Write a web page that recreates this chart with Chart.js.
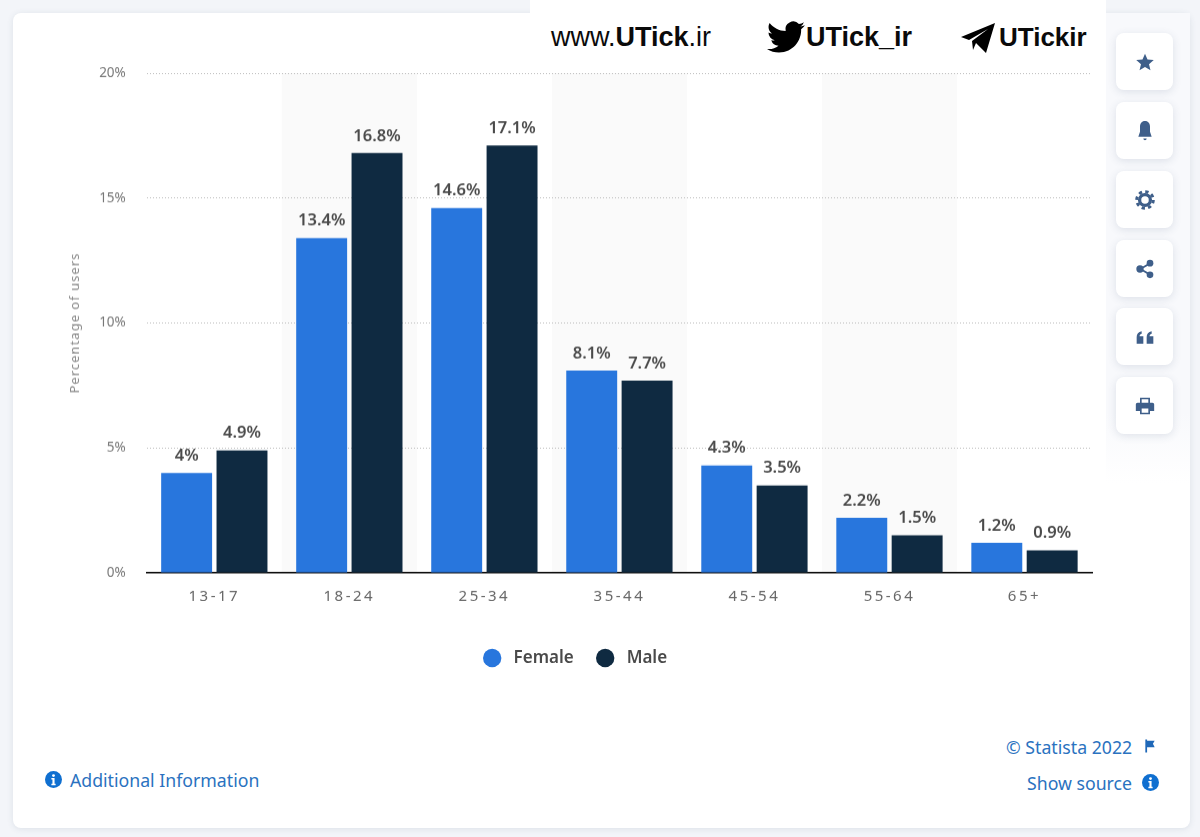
<!DOCTYPE html>
<html>
<head>
<meta charset="utf-8">
<style>
html, body { margin: 0; padding: 0; background: #f3f5f9; }
body { width: 1200px; height: 837px; overflow: hidden; position: relative; font-family: "Noto Sans", sans-serif; }
#card { position: absolute; left: 13px; top: 13px; width: 1177px; height: 815px; background: #fff; border-radius: 8px; box-shadow: 0 1px 6px rgba(60,80,110,.12); }
#side { position: absolute; left: 1106px; top: 13px; width: 84px; height: 470px; background: linear-gradient(#f8f9fc 85%, #fff); }
#wrap { position: absolute; left: 0; top: 0; width: 1150px; height: 675.5px; }
#mark { position: absolute; left: 530px; top: 0; width: 576px; height: 72px; background: #fff; font-family: "Liberation Sans", sans-serif; color: #0a0a0a; }
#mark span { position: absolute; top: 21px; font-size: 27px; line-height: 32px; white-space: nowrap; }
#mark b { font-weight: 700; }
#mark svg { position: absolute; }
.btn { position: absolute; left: 1116px; width: 57px; height: 57px; background: #fff; border-radius: 8px; box-shadow: 0 2px 8px rgba(60,80,110,.14); }
.btn svg { position: absolute; left: 19px; top: 19px; width: 20px; height: 20px; fill: #3f5f8a; }
.link { position: absolute; color: #2a72c0; font-size: 17.7px; line-height: 22px; white-space: nowrap; }
.ico { position: absolute; width: 17px; height: 17px; }
</style>
</head>
<body>
<div id="card"></div>
<div id="side"></div>
<div id="wrap"><canvas id="chartStatistics"></canvas></div>

<div id="mark">
  <span style="left:21px">www.<b>UTick</b>.ir</span>
  <svg style="left:236px;top:18px" width="40" height="38" viewBox="0 0 24 24"><path d="M23.95 4.57a10 10 0 0 1-2.82.77 4.96 4.96 0 0 0 2.16-2.72c-.95.55-2 .95-3.12 1.18a4.92 4.92 0 0 0-8.38 4.48C7.69 8.1 4.07 6.13 1.64 3.16a4.82 4.82 0 0 0-.67 2.48c0 1.71.87 3.21 2.19 4.1a4.9 4.9 0 0 1-2.23-.62v.06a4.92 4.92 0 0 0 3.95 4.83 4.9 4.9 0 0 1-2.21.08 4.94 4.94 0 0 0 4.6 3.42A9.87 9.87 0 0 1 0 19.54a14 14 0 0 0 7.56 2.21c9.05 0 14-7.5 14-14 0-.21 0-.42-.02-.63a9.94 9.94 0 0 0 2.41-2.55z"/></svg>
  <span style="left:276px;font-weight:700">UTick_ir</span>
  <svg style="left:431px;top:23px" width="34" height="30" viewBox="0 0 34 30"><path d="M0 14 34 0 25 30 15 20 12 27 11 18 27 6 8 17z"/></svg>
  <span style="left:469px;font-weight:700;font-size:26px">UTickir</span>
</div>

<div class="btn" style="top:33px"><svg viewBox="0 0 24 24"><path d="M12 2l3 7 7.5.7-5.7 5 1.8 7.3-6.6-4-6.6 4 1.8-7.3-5.7-5L9 9z"/></svg></div>
<div class="btn" style="top:102px"><svg viewBox="0 0 24 24"><path d="M12 0c4 0 6 3 6 7v6l2 6H4l2-6V7c0-4 2-7 6-7zM10 21h4a2 2 0 0 1-4 0z"/></svg></div>
<div class="btn" style="top:171px"><svg viewBox="0 0 24 24"><circle cx="12" cy="12" r="6.5" fill="none" stroke="#3f5f8a" stroke-width="4"/><circle cx="12" cy="12" r="10" fill="none" stroke="#3f5f8a" stroke-width="3.5" stroke-dasharray="4 3.85"/></svg></div>
<div class="btn" style="top:240px"><svg viewBox="0 0 24 24"><circle cx="18" cy="5" r="4"/><circle cx="18" cy="19" r="4"/><circle cx="6" cy="12" r="4.4"/><path d="M6 11 18 4v2.500L8.500 12 18 17.500V20L6 13z"/></svg></div>
<div class="btn" style="top:308px"><svg viewBox="0 0 24 24"><path d="M2 20v-8c0-4 2-6 6-7v3c-2 .5-2.500 1.500-2.500 3H10v9zM14 20v-8c0-4 2-6 6-7v3c-2 .5-2.500 1.500-2.500 3H22v9z"/></svg></div>
<div class="btn" style="top:377px"><svg viewBox="0 0 24 24"><path d="M6 2h12v6h3a2 2 0 0 1 2 2v8h-5v4H6v-4H1v-8a2 2 0 0 1 2-2h3zM8 4v4h8V4zM8 15v5h8v-5z" fill-rule="evenodd"/></svg></div>

<div class="link" style="left:1006px;top:736px">© Statista 2022</div>
<svg class="ico" style="left:1143px;top:739px;width:14px;height:14px" viewBox="0 0 24 24"><path d="M4 1h3v2h13l-3 5 3 6H7v9H4z" fill="#1f68b8"/></svg>
<div class="link" style="left:1027px;top:772px">Show source</div>
<svg class="ico" style="left:1142px;top:774px" viewBox="0 0 24 24"><circle cx="12" cy="12" r="12" fill="#0f6fd0"/><circle cx="12" cy="6.500" r="2" fill="#fff"/><path d="M9 10h4.500v8H15v2H9v-2h1.500v-6H9z" fill="#fff"/></svg>
<svg class="ico" style="left:45px;top:771px" viewBox="0 0 24 24"><circle cx="12" cy="12" r="12" fill="#0f6fd0"/><circle cx="12" cy="6.500" r="2" fill="#fff"/><path d="M9 10h4.500v8H15v2H9v-2h1.500v-6H9z" fill="#fff"/></svg>
<div class="link" style="left:70px;top:769px">Additional Information</div>

<script src="https://cdn.jsdelivr.net/npm/chart.js@4/dist/chart.umd.min.js"></script>
<script>
const ageGroups = ['13-17', '18-24', '25-34', '35-44', '45-54', '55-64', '65+'];
const femaleValues = [4, 13.4, 14.6, 8.1, 4.3, 2.2, 1.2];
const maleValues = [4.9, 16.8, 17.1, 7.7, 3.5, 1.5, 0.9];
const yTicks = [0, 5, 10, 15, 20];

const chartElement = document.getElementById('chartStatistics');
const fontName = '"Noto Sans", sans-serif';

// grey bands behind every second age group
const bandPlugin = {
    id: 'bands',
    beforeDatasetsDraw(chart) {
        const { ctx, chartArea, scales } = chart;
        const step = scales.x.getPixelForValue(1) - scales.x.getPixelForValue(0);
        ctx.save();
        ctx.globalCompositeOperation = 'destination-over';
        ctx.fillStyle = '#fafafa';
        ageGroups.forEach((group, i) => {
            if (i % 2 === 1) {
                ctx.fillRect(scales.x.getPixelForValue(i) - step / 2, chartArea.top, step, chartArea.height);
            }
        });
        ctx.restore();
    }
};

// value above each bar
const valueLabelPlugin = {
    id: 'valueLabels',
    afterDatasetsDraw(chart) {
        const ctx = chart.ctx;
        ctx.save();
        ctx.font = '600 16.5px ' + fontName;
        ctx.fillStyle = '#4a4a4a';
        ctx.textAlign = 'center';
        ctx.textBaseline = 'middle';
        chart.data.datasets.forEach((dataset, d) => {
            chart.getDatasetMeta(d).data.forEach((bar, i) => {
                ctx.fillText(dataset.data[i] + '%', bar.x, bar.y - 17);
            });
        });
        ctx.restore();
    }
};

var chartBar = new Chart(chartElement, {
    type: 'bar',
    data: {
        labels: ageGroups,
        datasets: [
            { label: 'Female', data: femaleValues, backgroundColor: '#2876dd', categoryPercentage: 0.82, barPercentage: 0.92 },
            { label: 'Male', data: maleValues, backgroundColor: '#0f2a41', categoryPercentage: 0.82, barPercentage: 0.92 }
        ]
    },
    options: {
        responsive: true,
        maintainAspectRatio: false,
        animation: false,
        layout: { padding: { left: 58.8, right: 58, top: 73, bottom: 0 } },
        plugins: {
            tooltip: { enabled: false },
            legend: {
                position: 'bottom',
                labels: {
                    usePointStyle: true,
                    pointStyle: 'circle',
                    boxHeight: 13,
                    padding: 23,
                    color: '#4a4a4a',
                    font: { family: fontName, size: 17, weight: '600' },
                    // leading space widens the gap between circle and text
                    generateLabels(chart) {
                        return Chart.defaults.plugins.legend.labels.generateLabels(chart)
                            .map(item => ({ ...item, text: ' ' + item.text }));
                    }
                }
            }
        },
        scales: {
            x: {
                grid: { display: false },
                border: { color: '#000', width: 1.5 },
                ticks: { color: '#666', padding: 7, font: { family: fontName, size: 15 } },
                afterFit(scale) { scale.height = 53.5; }
            },
            y: {
                min: 0,
                max: 20,
                afterBuildTicks(scale) { scale.ticks = yTicks.map(value => ({ value })); },
                grid: {
                    drawTicks: false,
                    color: ctx => ctx.tick && ctx.tick.value === 0 ? 'transparent' : '#bdbdbd'
                },
                border: { display: false, dash: [1, 2] },
                ticks: {
                    color: '#777',
                    padding: 21,
                    font: { family: fontName, size: 13.5 },
                    callback: value => value + '%'
                },
                title: {
                    display: true,
                    text: 'Percentage of users',
                    color: '#888',
                    padding: { top: 9, bottom: 0 },
                    font: { family: fontName, size: 13 }
                },
                afterFit(scale) { scale.width = 88; }
            }
        }
    },
    plugins: [bandPlugin, valueLabelPlugin]
});

// Chart.js has no letter spacing option, so set it around the scale's own draw calls
function spaced(scale, method, spacing) {
    const original = scale[method];
    scale[method] = function (area) {
        this.ctx.letterSpacing = spacing;
        original.call(this, area);
        this.ctx.letterSpacing = '0px';
    };
}
spaced(chartBar.scales.x, 'drawLabels', '2.5px');
spaced(chartBar.scales.y, 'drawTitle', '1px');
chartBar.draw();
</script>
</body>
</html>
